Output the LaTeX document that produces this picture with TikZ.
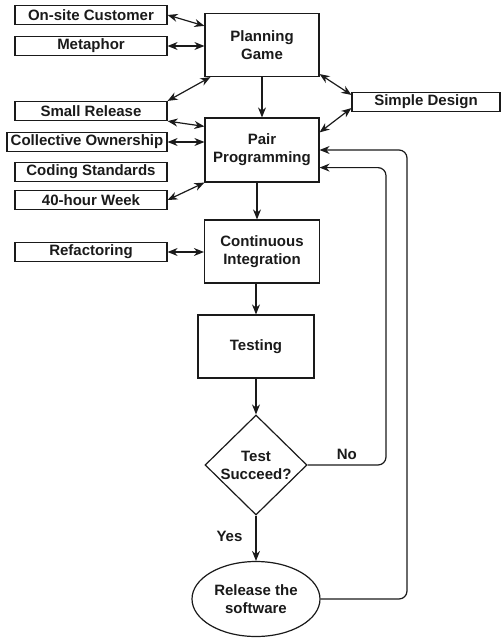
\documentclass[tikz,border=0pt]{standalone}
\usepackage{fontspec}
\setmainfont{Liberation Sans}
\usepackage{tikz}
\usetikzlibrary{calc,arrows.meta,shapes.geometric}
\definecolor{ink}{HTML}{1A1A1A}
\tikzset{
  practice/.style={draw=ink, line width=1.2pt, minimum width=152pt, minimum height=19pt, inner sep=0pt},
  stage/.style={draw=ink, line width=1.2pt, minimum width=114pt, minimum height=63pt, inner sep=0pt, align=center},
  decide/.style={draw=ink, line width=1.2pt, diamond, minimum width=102pt, minimum height=100pt, inner sep=0pt, align=center},
  finish/.style={draw=ink, line width=1.2pt, ellipse, minimum width=128pt, minimum height=75pt, inner sep=0pt, align=center},
  link/.style={draw=ink, line width=1.2pt, {Stealth[length=10pt,width=8pt]}-{Stealth[length=10pt,width=8pt]}},
  flow/.style={draw=ink, line width=1.2pt, -{Stealth[length=10pt,width=8pt]}},
  back/.style={flow, rounded corners=8pt},
  lab/.style={text=ink, inner sep=0pt},
}

\begin{document}
\begin{tikzpicture}[x=1pt, y=-1pt, font=\bfseries\fontsize{15}{18}\selectfont, text=ink]
  \useasboundingbox (0,0) rectangle (501,638);
  % main flow
  \node[stage] (pg) at (262,45) {Planning\\Game};
  \node[stage, minimum height=64pt] (pp) at (262,150) {Pair\\Programming};
  \node[stage, minimum width=115pt] (ci) at (262,251.5) {Continuous\\Integration};
  \node[stage, minimum width=116pt] (ts) at (256,346.5) {Testing};
  \node[decide] (tq) at (256,465) {Test\\Succeed?};
  \node[finish] (rs) at (256,599) {Release the\\software};
  % practices
  \node[practice] (os) at (91,15) {On-site Customer};
  \node[practice] (mp) at (91,46) {Metaphor};
  \node[practice] (sr) at (91,111) {Small Release};
  \node[practice, minimum width=160pt] (co) at (87,142) {Collective Ownership};
  \node[practice] (cs) at (91,172) {Coding Standards};
  \node[practice] (fw) at (91,200) {40-hour Week};
  \node[practice] (rf) at (91,252) {Refactoring};
  \node[practice, minimum width=148pt] (sd) at (426,102) {Simple Design};
  \coordinate (noturn) at (386,465);
  \coordinate (relturn) at (407,599);

  \draw[link] (os.east) -- ([yshift=-13pt]pg.north west);
  \draw[link] (mp.east) -- (mp.east -| pg.west);
  \draw[link] (sr.north east) -- ([xshift=6pt]pg.south west);
  \draw[link] (sr.south east) -- ([yshift=-9pt]pp.north west);
  \draw[link] (co.east) -- (co.east -| pp.west);
  \draw[link] (fw.east) -- (pp.south west);
  \draw[link] (rf.east) -- (rf.east -| ci.west);
  \draw[link] ([yshift=3pt]pg.south east) -- ([yshift=-3pt]sd.north west);
  \draw[link] ([yshift=4pt]sd.south west) -- ([yshift=-15pt]pp.north east);

  \draw[flow] (pg) -- (pp);
  \draw[flow] ([xshift=-5pt]pp.south) -- ([xshift=-5pt]pp.south |- ci.north);
  \draw[flow] (ci.south -| ts.north) -- (ts.north);
  \draw[flow] (ts) -- (tq);
  \draw[flow] (tq) -- node[lab, pos=0.45, left=13pt] {Yes} (rs);
  \draw[back] (tq.east) -- node[lab, above=5pt, pos=0.5] {No} (noturn) |- ([yshift=15pt]pp.south east);
  \draw[back] (rs.east) -- (relturn) |- (pp.east);
\end{tikzpicture}
\end{document}
